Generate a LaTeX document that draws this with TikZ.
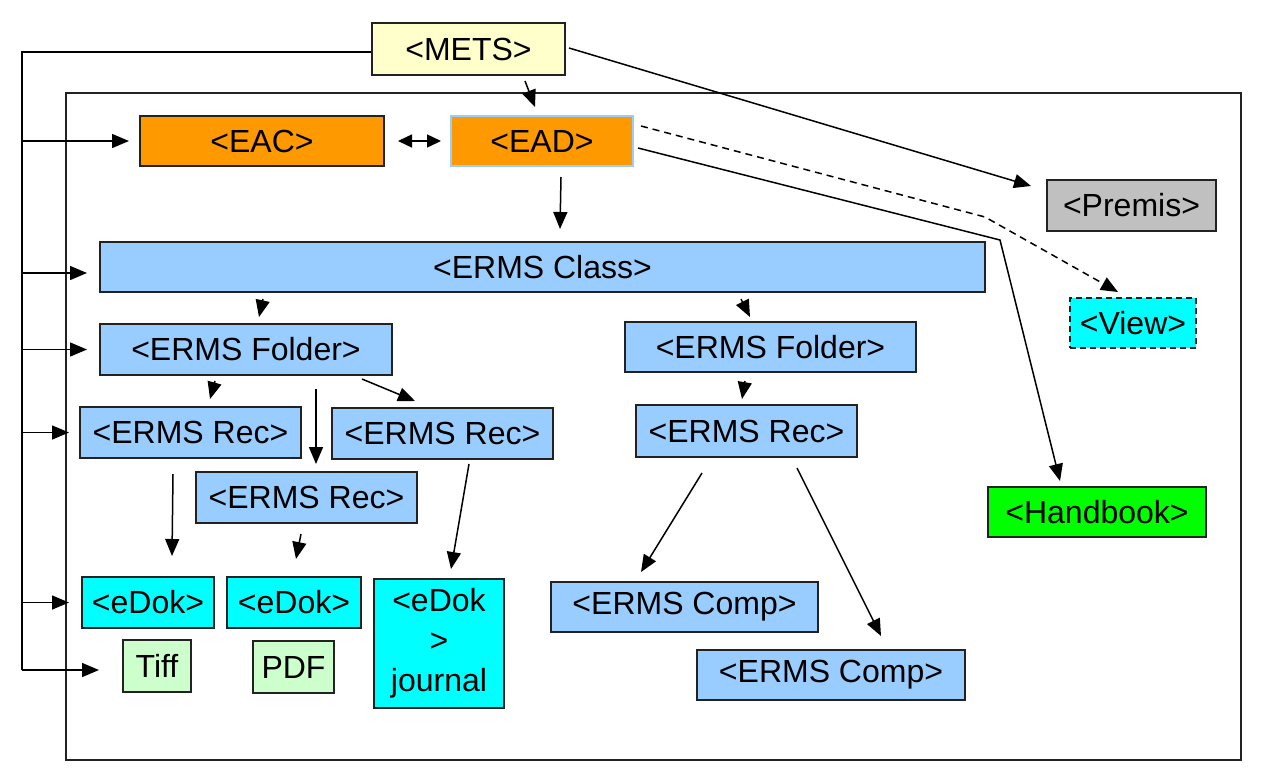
\documentclass[tikz,border=0pt]{standalone}
\usepackage{fontspec}
\setmainfont{Liberation Sans}
\usetikzlibrary{arrows.meta,calc}
\definecolor{metsc}{HTML}{FFFFCC}
\definecolor{orangec}{HTML}{FF9900}
\definecolor{bluec}{HTML}{99CCFF}
\definecolor{grayc}{HTML}{C0C0C0}
\definecolor{cyanc}{HTML}{00FFFF}
\definecolor{greenc}{HTML}{00FF00}
\definecolor{lgreenc}{HTML}{CCFFCC}
\definecolor{edgec}{HTML}{222222}
\tikzset{
  box/.style={draw=edgec, line width=2pt, rectangle, inner sep=0pt, align=center,
    font=\fontsize{32}{40}\selectfont},
  arr/.style={line width=1.5pt, -{Triangle[length=17pt,width=14pt]}},
  darr/.style={line width=1.5pt, {Triangle[length=14pt,width=13pt]}-{Triangle[length=14pt,width=13pt]}},
  plain/.style={line width=1.5pt},
}
\begin{document}
\begin{tikzpicture}[x=1pt,y=-1pt]
\useasboundingbox (0,0) rectangle (1273,782);
\fill[white] (0,0) rectangle (1273,782);
% frame
\draw[line width=2pt, draw=edgec] (66,93) rectangle (1241,760);
% nodes
\node[box, fill=metsc, minimum width=193, minimum height=52] (mets) at (468.5,49) {<METS>};
\node[box, fill=orangec, minimum width=244, minimum height=50] (eac) at (262,141) {<EAC>};
\node[box, fill=orangec, draw=bluec, minimum width=182, minimum height=50] (ead) at (542,141) {<EAD>};
\node[box, fill=bluec, minimum width=885, minimum height=50] (cls) at (542.5,267) {<ERMS Class>};
\node[box, fill=grayc, minimum width=169, minimum height=51] (premis) at (1131.5,205.5) {<Premis>};
\node[box, fill=cyanc, dash pattern=on 6pt off 4pt, minimum width=126, minimum height=50] (view) at (1133,323) {<View>};
\node[box, fill=greenc, minimum width=218, minimum height=50] (hand) at (1097,512) {<Handbook>};
\node[box, fill=bluec, minimum width=292, minimum height=51] (f1) at (246,349.5) {<ERMS Folder>};
\node[box, fill=bluec, minimum width=291, minimum height=50] (f2) at (770.5,347) {<ERMS Folder>};
\node[box, fill=bluec, minimum width=221, minimum height=51] (r1) at (190.5,432.5) {<ERMS Rec>};
\node[box, fill=bluec, minimum width=221, minimum height=51] (r3) at (442.5,433.5) {<ERMS Rec>};
\node[box, fill=bluec, minimum width=221, minimum height=51] (r2) at (306.5,497.5) {<ERMS Rec>};
\node[box, fill=bluec, minimum width=221, minimum height=52] (r4) at (746.5,431) {<ERMS Rec>};
\node[box, fill=cyanc, minimum width=132, minimum height=51] (d1) at (148,602.5) {<eDok>};
\node[box, fill=cyanc, minimum width=134, minimum height=51] (d2) at (294,602.5) {<eDok>};
\node[box, fill=cyanc, minimum width=130, minimum height=129] (jr) at (439,643.5) {<eDok\\>\\journal};
\node[box, fill=lgreenc, minimum width=68, minimum height=52] (tiff) at (157,666) {Tiff};
\node[box, fill=lgreenc, minimum width=81, minimum height=52] (pdf) at (293.5,667) {PDF};
\node[box, fill=bluec, minimum width=267, minimum height=50] (c1) at (684.5,607) {<ERMS Comp>};
\node[box, fill=bluec, minimum width=268, minimum height=50] (c2) at (831,675) {<ERMS Comp>};
% left feeder
\coordinate (lt) at (22,52);
\coordinate (lb) at (22,670);
\draw[plain] ([shift={(0,3)}]mets.west) -- (lt) -- (lb);
\coordinate (tcls) at ([shift={(-12,6)}]cls.west);
\draw[arr] (lt |- eac.west) -- ([shift={(-10,0)}]eac.west);
\draw[arr] (lt |- tcls) -- (tcls);
\draw[arr] (lt |- f1.west) -- ([shift={(-12,0)}]f1.west);
\draw[arr] (lt |- r1.west) -- ([shift={(-10,0)}]r1.west);
\draw[arr] (lt |- d1.west) -- ([shift={(-12,0)}]d1.west);
\draw[arr] (lb) -- ([shift={(-23,4)}]tiff.west);
% connectors
\draw[arr] ([shift={(56.5,5)}]mets.south) -- ([shift={(-7,-8)}]ead.north);
\draw[arr] ([shift={(3,-1)}]mets.east) -- ([shift={(-15,-19.5)}]premis.west);
\draw[arr] ([shift={(19,10)}]ead.south) -- ([shift={(17.5,-12)}]cls.north);
\draw[darr] ([shift={(13,0)}]eac.east) -- ([shift={(-9,0)}]ead.west);
\coordinate (hbend) at (1000,240);
\draw[arr] ([shift={(4,7)}]ead.east) -- (hbend) -- ([shift={(-37,-5)}]hand.north);
\coordinate (vbend) at (985,217);
\draw[arr, dash pattern=on 7pt off 5pt] ([shift={(7,-15)}]ead.east) -- (vbend) -- ([shift={(-15,-5)}]view.north);
\draw[arr] ([shift={(-279.5,6)}]cls.south) -- ([shift={(13,-6)}]f1.north);
\draw[arr] ([shift={(198.5,6)}]cls.south) -- ([shift={(-20.5,-4)}]f2.north);
\draw[arr] ([shift={(-31,5)}]f1.south) -- ([shift={(19.5,-7)}]r1.north);
\draw[arr] ([shift={(70,13)}]f1.south) -- ([shift={(9.5,-7)}]r2.north);
\draw[arr] ([shift={(116,3)}]f1.south) -- ([shift={(-27.5,-6)}]r3.north);
\draw[arr] ([shift={(-17.5,15)}]r1.south) -- ([shift={(24,-20)}]d1.north);
\draw[arr] ([shift={(-5.5,10)}]r2.south) -- ([shift={(2,-17)}]d2.north);
\draw[arr] ([shift={(26.5,4)}]r3.south) -- ([shift={(12,-9)}]jr.north);
\draw[arr] ([shift={(-25.5,8)}]f2.south) -- ([shift={(-4.5,-5)}]r4.north);
\draw[arr] ([shift={(-44.5,15)}]r4.south) -- ([shift={(-43.5,-9)}]c1.north);
\draw[arr] ([shift={(50.5,10)}]r4.south) -- ([shift={(50,-13)}]c2.north);
\end{tikzpicture}
\end{document}
